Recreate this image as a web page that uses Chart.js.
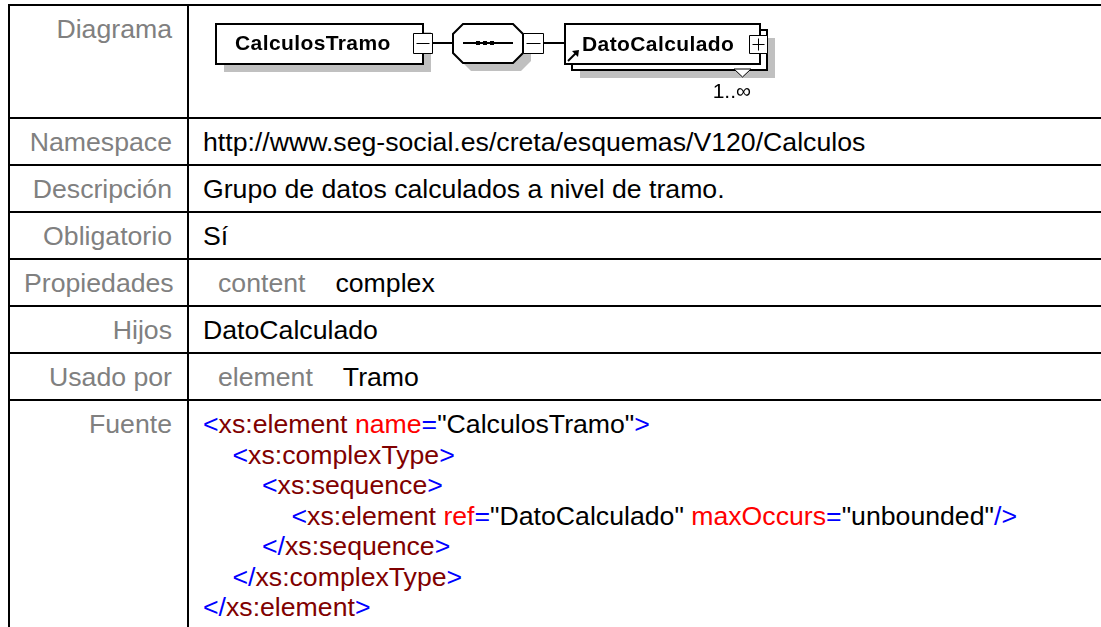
<!DOCTYPE html>
<html>
<head>
<meta charset="utf-8">
<script src="https://cdn.jsdelivr.net/npm/chart.js@4/dist/chart.umd.min.js"></script>
<style>
  html, body { margin: 0; padding: 0; background: #fff; overflow: hidden; width: 1101px; height: 627px; }
  body { font-family: "Liberation Sans", Arial, sans-serif; font-size: 26.67px; color: #000; }
  #doc { position: absolute; left: 8px; top: 4px; border-collapse: separate; border-spacing: 0;
         border-top: 2px solid #000; border-left: 2px solid #000; width: 1130px; table-layout: fixed; }
  #doc td { border-right: 2px solid #000; border-bottom: 2px solid #000; box-sizing: border-box;
            vertical-align: top; padding: 8px 14px 7px 14px; line-height: 30px; white-space: nowrap; }
  #doc td.lbl { width: 179px; text-align: right; color: #808080; padding-right: 15px; }
  #doc tr.r { height: 47px; }
  #doc tr.d { height: 113px; }
  .inner span.k { color: #808080; display: inline-block; padding: 0 15px; }
  .inner span.v { display: inline-block; padding: 0 15px; }
  .code div { line-height: 30.5px; }
  .sym { color: #0000ff; } .tag { color: #800000; } .att { color: #ff0000; } .val { color: #000; }
  #diagram { position: absolute; left: 189px; top: 6px; }
</style>
</head>
<body>
<table id="doc"><tbody id="tb"></tbody></table>
<canvas id="diagram" width="600" height="111"></canvas>
<script>
// ---------- data ----------
const rowLabels = ['Diagrama', 'Namespace', 'Descripción', 'Obligatorio', 'Propiedades', 'Hijos', 'Usado por', 'Fuente'];
const namespaceValue = 'http://www.seg-social.es/creta/esquemas/V120/Calculos';
const descriptionValue = 'Grupo de datos calculados a nivel de tramo.';
const requiredValue = 'Sí';
const propertyKeys = ['content'];
const propertyValues = ['complex'];
const childNames = ['DatoCalculado'];
const usedByKinds = ['element'];
const usedByNames = ['Tramo'];
const sourceDepth = [0, 1, 2, 3, 2, 1, 0];
const sourceLines = [
  '<xs:element name="CalculosTramo">',
  '<xs:complexType>',
  '<xs:sequence>',
  '<xs:element ref="DatoCalculado" maxOccurs="unbounded"/>',
  '</xs:sequence>',
  '</xs:complexType>',
  '</xs:element>'
];
const diagramElement = 'CalculosTramo';
const diagramChild = 'DatoCalculado';
const childOccurrence = '1..∞';

// ---------- table ----------
function esc(s) { return s.replace(/&/g, '&amp;').replace(/</g, '&lt;').replace(/>/g, '&gt;'); }
function colorize(line) {
  const re = /(<\/|<|\/>|>|=)|("[^"]*")|(\s+)|([^\s<>="\/]+)/g;
  let m, out = '', afterOpen = false;
  while ((m = re.exec(line)) !== null) {
    if (m[1]) { out += '<span class="sym">' + esc(m[1]) + '</span>'; afterOpen = (m[1] === '<' || m[1] === '</'); }
    else if (m[2]) { out += '<span class="val">' + esc(m[2]) + '</span>'; }
    else if (m[3]) { out += m[3].replace(/ /g, '&nbsp;'); }
    else if (m[4]) { out += '<span class="' + (afterOpen ? 'tag' : 'att') + '">' + esc(m[4]) + '</span>'; afterOpen = false; }
  }
  return out;
}
const cells = [
  '',
  esc(namespaceValue),
  esc(descriptionValue),
  esc(requiredValue),
  '<span class="inner">' + propertyKeys.map((k, i) => '<span class="k">' + esc(k) + '</span><span class="v">' + esc(propertyValues[i]) + '</span>').join('') + '</span>',
  childNames.map(esc).join(' '),
  '<span class="inner">' + usedByKinds.map((k, i) => '<span class="k">' + esc(k) + '</span><span class="v">' + esc(usedByNames[i]) + '</span>').join('') + '</span>',
  '<div class="code">' + sourceLines.map((l, i) => '<div style="padding-left:' + (sourceDepth[i] * 29.5) + 'px">' + colorize(l) + '</div>').join('') + '</div>'
];
const tb = document.getElementById('tb');
rowLabels.forEach((lab, i) => {
  const tr = document.createElement('tr');
  tr.className = i === 0 ? 'd' : 'r';
  tr.innerHTML = '<td class="lbl">' + esc(lab) + '</td><td>' + cells[i] + '</td>';
  tb.appendChild(tr);
});

// ---------- diagram (Chart.js canvas, page-coordinate scales) ----------
const LAYOUT = {
  box1: [216, 24, 423, 64], minus1: [413, 33, 432, 53],
  oct: [453, 24, 523, 63], cut: 10, minus2: [523, 33, 543, 53],
  box2: [565, 24, 760, 64], back: 7, plus: [749, 35, 767, 53],
  midY: 43, shadow: 8, shadowColor: '#c0c0c0'
};
const diagramPlugin = {
  id: 'xsdDiagram',
  afterDraw(chart) {
    const ctx = chart.ctx, sx = chart.scales.x, sy = chart.scales.y;
    const X = v => sx.getPixelForValue(v), Y = v => sy.getPixelForValue(v);
    const L = LAYOUT, S = L.shadow;
    ctx.save();
    function rect(r, dx, dy, fill, stroke, lw) {
      const o = (lw === 1) ? 0.5 : 0;
      const x0 = X(r[0] + dx) + o, y0 = Y(r[1] + dy) + o, x1 = X(r[2] + dx) + o, y1 = Y(r[3] + dy) + o;
      ctx.beginPath(); ctx.rect(x0, y0, x1 - x0, y1 - y0);
      if (fill) { ctx.fillStyle = fill; ctx.fill(); }
      if (stroke) { ctx.lineWidth = lw; ctx.strokeStyle = stroke; ctx.stroke(); }
    }
    function line(x0, y0, x1, y1, lw) {
      const o = (lw === 1) ? 0.5 : 0;
      ctx.beginPath(); ctx.moveTo(X(x0) + o, Y(y0) + o); ctx.lineTo(X(x1) + o, Y(y1) + o);
      ctx.lineWidth = lw; ctx.strokeStyle = '#000'; ctx.stroke();
    }
    function octPath(dx, dy) {
      const [a, b, c, d] = L.oct, k = L.cut;
      const pts = [[a + k, b], [c - k, b], [c, b + k], [c, d - k], [c - k, d], [a + k, d], [a, d - k], [a, b + k]];
      ctx.beginPath();
      pts.forEach((p, i) => { const px = X(p[0] + dx), py = Y(p[1] + dy); i ? ctx.lineTo(px, py) : ctx.moveTo(px, py); });
      ctx.closePath();
    }
    function button(r, plus) {
      rect(r, 0, 0, '#fff', '#000', 1);
      const cx = Math.floor((r[0] + r[2]) / 2), cy = Math.floor((r[1] + r[3]) / 2);
      line(r[0] + 3, cy, r[2] - 3, cy, 1);
      if (plus) line(cx, r[1] + 3, cx, r[3] - 3, 1);
    }
    // element box
    rect(L.box1, S, S, L.shadowColor);
    rect(L.box1, 0, 0, '#fff', '#000', 2);
    ctx.fillStyle = '#000';
    ctx.font = 'bold 21px "Liberation Sans", Arial, sans-serif';
    ctx.letterSpacing = '0.4px';
    ctx.textBaseline = 'alphabetic';
    ctx.fillText(diagramElement, X(235), Y(50));
    button(L.minus1, false);
    line(L.minus1[2], L.midY, L.oct[0], L.midY, 2);
    // sequence compositor
    octPath(S, S); ctx.fillStyle = L.shadowColor; ctx.fill();
    octPath(0, 0); ctx.fillStyle = '#fff'; ctx.fill(); ctx.lineWidth = 2; ctx.strokeStyle = '#000'; ctx.stroke();
    line(L.oct[0] + 10, L.midY, L.oct[2] - 10, L.midY, 2);
    ctx.fillStyle = '#000';
    [478, 485, 492].forEach(cx => { ctx.fillRect(X(cx - 2), Y(L.midY - 2), X(cx + 2) - X(cx - 2), Y(L.midY + 2) - Y(L.midY - 2)); });
    button(L.minus2, false);
    line(L.minus2[2], L.midY, L.box2[0], L.midY, 2);
    // repeated child element
    const B = L.back;
    rect(L.box2, B + S, B + S - 1, L.shadowColor);
    rect(L.box2, B, B - 1, '#fff', '#000', 2);
    rect(L.box2, 0, 0, '#fff', '#000', 2);
    ctx.fillStyle = '#000';
    ctx.fillText(diagramChild, X(582), Y(51));
    button(L.plus, true);
    // reference arrow
    line(568, 61, 576, 53, 2);
    ctx.beginPath(); ctx.moveTo(X(579), Y(50)); ctx.lineTo(X(572), Y(51)); ctx.lineTo(X(578), Y(57)); ctx.closePath();
    ctx.fillStyle = '#000'; ctx.fill();
    // occurrence marker
    ctx.beginPath(); ctx.moveTo(X(734), Y(69)); ctx.lineTo(X(751), Y(69)); ctx.lineTo(X(742.5), Y(77)); ctx.closePath();
    ctx.fillStyle = '#fff'; ctx.fill(); ctx.lineWidth = 1; ctx.strokeStyle = '#000'; ctx.stroke();
    ctx.letterSpacing = '0px';
    ctx.font = '21px "Liberation Sans", Arial, sans-serif';
    ctx.textAlign = 'right';
    ctx.fillStyle = '#000';
    ctx.fillText(childOccurrence, X(751), Y(98));
    ctx.restore();
  }
};
new Chart(document.getElementById('diagram'), {
  type: 'scatter',
  data: { datasets: [] },
  options: {
    responsive: false, animation: false, devicePixelRatio: 1,
    layout: { padding: 0 },
    plugins: { legend: { display: false }, tooltip: { enabled: false } },
    scales: {
      x: { type: 'linear', min: 189, max: 789, display: false },
      y: { type: 'linear', min: 6, max: 117, reverse: true, display: false }
    }
  },
  plugins: [diagramPlugin]
});
</script>
</body>
</html>
